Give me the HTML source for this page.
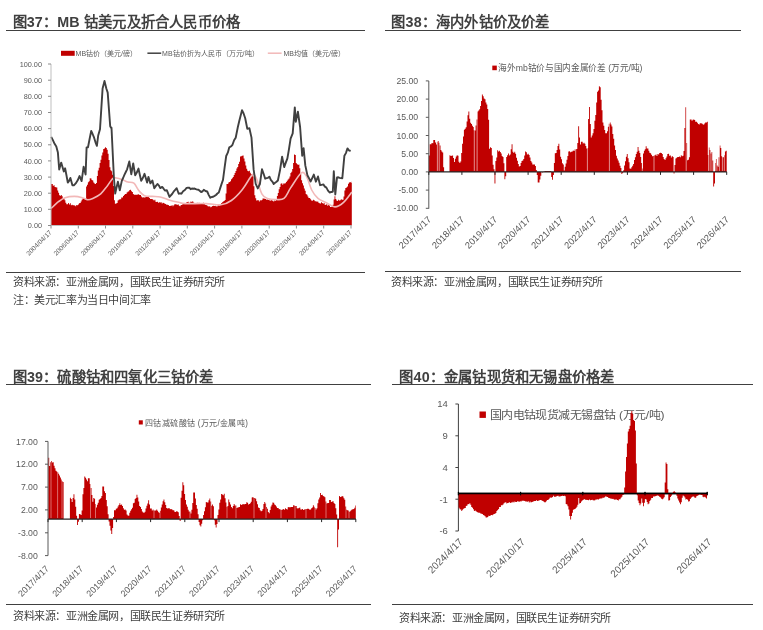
<!DOCTYPE html>
<html lang="zh-CN"><head><meta charset="utf-8"><style>
html,body{margin:0;padding:0;background:#fff;}
body{width:763px;height:630px;overflow:hidden;position:relative;filter:blur(0.35px);font-family:"Liberation Sans",sans-serif;}
.t{position:absolute;font-weight:bold;font-size:14.3px;letter-spacing:0.2px;color:#404040;white-space:nowrap;line-height:1;}
.s{position:absolute;font-size:11px;letter-spacing:-0.4px;color:#404040;white-space:nowrap;line-height:1;}
.hl{position:absolute;height:1.2px;background:#404040;}
svg{position:absolute;left:0;top:0;}
svg text{font-family:"Liberation Sans",sans-serif;}
</style></head><body>
<svg width="763" height="630" viewBox="0 0 763 630">
<path d="M51.0,225.5 L51.0,183.9 L51.9,183.9 L51.9,184.1 L52.8,184.1 L52.8,185.7 L53.7,185.7 L53.7,185.3 L54.6,185.3 L54.6,186.9 L55.5,186.9 L55.5,187.2 L56.4,187.2 L56.4,187.5 L57.3,187.5 L57.3,190.5 L58.2,190.5 L58.2,192.7 L59.1,192.7 L59.1,195.3 L60.0,195.3 L60.0,195.8 L60.9,195.8 L60.9,194.9 L61.8,194.9 L61.8,196.2 L62.7,196.2 L62.7,198.4 L63.6,198.4 L63.6,198.6 L64.5,198.6 L64.5,200.3 L65.4,200.3 L65.4,202.8 L66.3,202.8 L66.3,204.3 L67.2,204.3 L67.2,204.3 L68.1,204.3 L68.1,203.1 L69.0,203.1 L69.0,204.4 L69.9,204.4 L69.9,203.2 L70.8,203.2 L70.8,205.3 L71.7,205.3 L71.7,204.8 L72.6,204.8 L72.6,205.3 L73.5,205.3 L73.5,205.2 L74.4,205.2 L74.4,205.4 L75.3,205.4 L75.3,206.2 L76.2,206.2 L76.2,205.0 L77.1,205.0 L77.1,205.2 L78.0,205.2 L78.0,204.5 L78.9,204.5 L78.9,203.3 L79.8,203.3 L79.8,202.9 L80.7,202.9 L80.7,201.4 L81.6,201.4 L81.6,199.7 L82.5,199.7 L82.5,198.6 L83.4,198.6 L83.4,197.9 L84.3,197.9 L84.3,199.0 L85.2,199.0 L85.2,199.3 L86.1,199.3 L86.1,186.6 L87.0,186.6 L87.0,184.7 L87.9,184.7 L87.9,182.3 L88.8,182.3 L88.8,181.2 L89.7,181.2 L89.7,178.2 L90.6,178.2 L90.6,178.4 L91.5,178.4 L91.5,179.9 L92.4,179.9 L92.4,180.4 L93.3,180.4 L93.3,182.5 L94.2,182.5 L94.2,183.4 L95.1,183.4 L95.1,183.9 L96.0,183.9 L96.0,183.1 L96.9,183.1 L96.9,175.9 L97.8,175.9 L97.8,170.5 L98.7,170.5 L98.7,167.8 L99.6,167.8 L99.6,163.1 L100.5,163.1 L100.5,159.8 L101.4,159.8 L101.4,155.4 L102.3,155.4 L102.3,152.6 L103.2,152.6 L103.2,149.0 L104.1,149.0 L104.1,148.4 L105.0,148.4 L105.0,147.3 L105.9,147.3 L105.9,148.1 L106.8,148.1 L106.8,149.7 L107.7,149.7 L107.7,153.8 L108.6,153.8 L108.6,159.9 L109.5,159.9 L109.5,167.2 L110.4,167.2 L110.4,170.3 L111.3,170.3 L111.3,171.3 L112.2,171.3 L112.2,174.7 L113.1,174.7 L113.1,186.0 L114.0,186.0 L114.0,200.3 L114.9,200.3 L114.9,203.7 L115.8,203.7 L115.8,203.5 L116.7,203.5 L116.7,202.9 L117.6,202.9 L117.6,200.6 L118.5,200.6 L118.5,199.7 L119.4,199.7 L119.4,199.3 L120.3,199.3 L120.3,199.2 L121.2,199.2 L121.2,197.6 L122.1,197.6 L122.1,197.4 L123.0,197.4 L123.0,196.0 L123.9,196.0 L123.9,195.1 L124.8,195.1 L124.8,194.1 L125.7,194.1 L125.7,193.9 L126.6,193.9 L126.6,192.5 L127.5,192.5 L127.5,191.8 L128.4,191.8 L128.4,191.2 L129.3,191.2 L129.3,190.1 L130.2,190.1 L130.2,189.7 L131.1,189.7 L131.1,191.3 L132.0,191.3 L132.0,192.0 L132.9,192.0 L132.9,193.9 L133.8,193.9 L133.8,194.7 L134.7,194.7 L134.7,194.8 L135.6,194.8 L135.6,194.8 L136.5,194.8 L136.5,194.8 L137.4,194.8 L137.4,194.4 L138.3,194.4 L138.3,194.2 L139.2,194.2 L139.2,195.1 L140.1,195.1 L140.1,194.9 L141.0,194.9 L141.0,196.5 L141.9,196.5 L141.9,197.5 L142.8,197.5 L142.8,197.3 L143.7,197.3 L143.7,197.6 L144.6,197.6 L144.6,197.5 L145.5,197.5 L145.5,196.7 L146.4,196.7 L146.4,196.3 L147.3,196.3 L147.3,196.8 L148.2,196.8 L148.2,197.1 L149.1,197.1 L149.1,198.0 L150.0,198.0 L150.0,199.1 L150.9,199.1 L150.9,199.1 L151.8,199.1 L151.8,198.9 L152.7,198.9 L152.7,199.8 L153.6,199.8 L153.6,200.4 L154.5,200.4 L154.5,199.7 L155.4,199.7 L155.4,201.8 L156.3,201.8 L156.3,202.0 L157.2,202.0 L157.2,201.8 L158.1,201.8 L158.1,202.8 L159.0,202.8 L159.0,202.3 L159.9,202.3 L159.9,202.5 L160.8,202.5 L160.8,202.2 L161.7,202.2 L161.7,203.4 L162.6,203.4 L162.6,202.8 L163.5,202.8 L163.5,202.9 L164.4,202.9 L164.4,203.7 L165.3,203.7 L165.3,204.0 L166.2,204.0 L166.2,204.8 L167.1,204.8 L167.1,204.7 L168.0,204.7 L168.0,205.1 L168.9,205.1 L168.9,205.9 L169.8,205.9 L169.8,205.7 L170.7,205.7 L170.7,205.9 L171.6,205.9 L171.6,204.9 L172.5,204.9 L172.5,206.2 L173.4,206.2 L173.4,205.3 L174.3,205.3 L174.3,204.2 L175.2,204.2 L175.2,204.3 L176.1,204.3 L176.1,204.6 L177.0,204.6 L177.0,204.7 L177.9,204.7 L177.9,204.4 L178.8,204.4 L178.8,205.8 L179.7,205.8 L179.7,206.2 L180.6,206.2 L180.6,205.0 L181.5,205.0 L181.5,205.1 L182.4,205.1 L182.4,203.9 L183.3,203.9 L183.3,203.5 L184.2,203.5 L184.2,203.5 L185.1,203.5 L185.1,202.9 L186.0,202.9 L186.0,202.6 L186.9,202.6 L186.9,202.0 L187.8,202.0 L187.8,201.7 L188.7,201.7 L188.7,203.3 L189.6,203.3 L189.6,202.4 L190.5,202.4 L190.5,201.6 L191.4,201.6 L191.4,201.9 L192.3,201.9 L192.3,201.3 L193.2,201.3 L193.2,202.5 L194.1,202.5 L194.1,203.5 L195.0,203.5 L195.0,203.5 L195.9,203.5 L195.9,203.3 L196.8,203.3 L196.8,202.7 L197.7,202.7 L197.7,202.9 L198.6,202.9 L198.6,202.8 L199.5,202.8 L199.5,203.9 L200.4,203.9 L200.4,203.4 L201.3,203.4 L201.3,203.8 L202.2,203.8 L202.2,202.9 L203.1,202.9 L203.1,202.7 L204.0,202.7 L204.0,203.7 L204.9,203.7 L204.9,204.7 L205.8,204.7 L205.8,205.0 L206.7,205.0 L206.7,205.5 L207.6,205.5 L207.6,206.2 L208.5,206.2 L208.5,206.6 L209.4,206.6 L209.4,206.3 L210.3,206.3 L210.3,207.3 L211.2,207.3 L211.2,206.7 L212.1,206.7 L212.1,205.9 L213.0,205.9 L213.0,205.7 L213.9,205.7 L213.9,205.9 L214.8,205.9 L214.8,205.7 L215.7,205.7 L215.7,206.3 L216.6,206.3 L216.6,206.6 L217.5,206.6 L217.5,205.4 L218.4,205.4 L218.4,205.2 L219.3,205.2 L219.3,205.5 L220.2,205.5 L220.2,204.9 L221.1,204.9 L221.1,203.1 L222.0,203.1 L222.0,202.2 L222.9,202.2 L222.9,201.6 L223.8,201.6 L223.8,201.0 L224.7,201.0 L224.7,200.1 L225.6,200.1 L225.6,193.6 L226.5,193.6 L226.5,184.1 L227.4,184.1 L227.4,184.1 L228.3,184.1 L228.3,182.5 L229.2,182.5 L229.2,181.9 L230.1,181.9 L230.1,181.3 L231.0,181.3 L231.0,179.2 L231.9,179.2 L231.9,178.3 L232.8,178.3 L232.8,177.0 L233.7,177.0 L233.7,175.0 L234.6,175.0 L234.6,173.1 L235.5,173.1 L235.5,170.9 L236.4,170.9 L236.4,168.5 L237.3,168.5 L237.3,167.1 L238.2,167.1 L238.2,164.0 L239.1,164.0 L239.1,161.8 L240.0,161.8 L240.0,156.6 L240.9,156.6 L240.9,156.2 L241.8,156.2 L241.8,155.8 L242.7,155.8 L242.7,155.6 L243.6,155.6 L243.6,158.6 L244.5,158.6 L244.5,161.5 L245.4,161.5 L245.4,165.4 L246.3,165.4 L246.3,168.8 L247.2,168.8 L247.2,170.8 L248.1,170.8 L248.1,171.2 L249.0,171.2 L249.0,170.7 L249.9,170.7 L249.9,172.7 L250.8,172.7 L250.8,174.3 L251.7,174.3 L251.7,174.3 L252.6,174.3 L252.6,176.4 L253.5,176.4 L253.5,186.3 L254.4,186.3 L254.4,195.2 L255.3,195.2 L255.3,198.2 L256.2,198.2 L256.2,200.5 L257.1,200.5 L257.1,200.3 L258.0,200.3 L258.0,200.2 L258.9,200.2 L258.9,201.5 L259.8,201.5 L259.8,200.2 L260.7,200.2 L260.7,200.5 L261.6,200.5 L261.6,200.0 L262.5,200.0 L262.5,198.4 L263.4,198.4 L263.4,198.5 L264.3,198.5 L264.3,198.8 L265.2,198.8 L265.2,198.9 L266.1,198.9 L266.1,199.8 L267.0,199.8 L267.0,199.4 L267.9,199.4 L267.9,199.9 L268.8,199.9 L268.8,199.4 L269.7,199.4 L269.7,201.0 L270.6,201.0 L270.6,200.1 L271.5,200.1 L271.5,200.4 L272.4,200.4 L272.4,200.7 L273.3,200.7 L273.3,201.4 L274.2,201.4 L274.2,200.6 L275.1,200.6 L275.1,200.8 L276.0,200.8 L276.0,198.9 L276.9,198.9 L276.9,196.0 L277.8,196.0 L277.8,193.1 L278.7,193.1 L278.7,189.2 L279.6,189.2 L279.6,187.1 L280.5,187.1 L280.5,183.7 L281.4,183.7 L281.4,183.2 L282.3,183.2 L282.3,184.7 L283.2,184.7 L283.2,183.5 L284.1,183.5 L284.1,183.5 L285.0,183.5 L285.0,183.3 L285.9,183.3 L285.9,182.1 L286.8,182.1 L286.8,180.7 L287.7,180.7 L287.7,179.5 L288.6,179.5 L288.6,178.4 L289.5,178.4 L289.5,176.6 L290.4,176.6 L290.4,173.1 L291.3,173.1 L291.3,171.8 L292.2,171.8 L292.2,168.9 L293.1,168.9 L293.1,162.9 L294.0,162.9 L294.0,154.4 L294.9,154.4 L294.9,155.1 L295.8,155.1 L295.8,163.1 L296.7,163.1 L296.7,164.1 L297.6,164.1 L297.6,165.0 L298.5,165.0 L298.5,164.5 L299.4,164.5 L299.4,168.2 L300.3,168.2 L300.3,173.9 L301.2,173.9 L301.2,180.2 L302.1,180.2 L302.1,183.2 L303.0,183.2 L303.0,185.5 L303.9,185.5 L303.9,188.4 L304.8,188.4 L304.8,190.7 L305.7,190.7 L305.7,194.0 L306.6,194.0 L306.6,194.8 L307.5,194.8 L307.5,196.5 L308.4,196.5 L308.4,197.9 L309.3,197.9 L309.3,198.0 L310.2,198.0 L310.2,199.3 L311.1,199.3 L311.1,200.5 L312.0,200.5 L312.0,200.7 L312.9,200.7 L312.9,199.8 L313.8,199.8 L313.8,200.3 L314.7,200.3 L314.7,201.3 L315.6,201.3 L315.6,201.3 L316.5,201.3 L316.5,201.7 L317.4,201.7 L317.4,201.5 L318.3,201.5 L318.3,202.8 L319.2,202.8 L319.2,203.2 L320.1,203.2 L320.1,203.5 L321.0,203.5 L321.0,202.3 L321.9,202.3 L321.9,202.9 L322.8,202.9 L322.8,203.7 L323.7,203.7 L323.7,203.0 L324.6,203.0 L324.6,204.7 L325.5,204.7 L325.5,205.1 L326.4,205.1 L326.4,204.0 L327.3,204.0 L327.3,205.7 L328.2,205.7 L328.2,204.8 L329.1,204.8 L329.1,205.5 L330.0,205.5 L330.0,206.9 L330.9,206.9 L330.9,207.1 L331.8,207.1 L331.8,206.2 L332.7,206.2 L332.7,204.8 L333.6,204.8 L333.6,199.6 L334.5,199.6 L334.5,196.3 L335.4,196.3 L335.4,199.0 L336.3,199.0 L336.3,200.5 L337.2,200.5 L337.2,201.1 L338.1,201.1 L338.1,199.7 L339.0,199.7 L339.0,200.6 L339.9,200.6 L339.9,200.2 L340.8,200.2 L340.8,199.3 L341.7,199.3 L341.7,199.8 L342.6,199.8 L342.6,199.7 L343.5,199.7 L343.5,196.4 L344.4,196.4 L344.4,190.6 L345.3,190.6 L345.3,187.9 L346.2,187.9 L346.2,187.4 L347.1,187.4 L347.1,186.6 L348.0,186.6 L348.0,183.8 L348.9,183.8 L348.9,182.6 L349.8,182.6 L349.8,181.9 L350.7,181.9 L350.7,182.8 L351.6,182.8 L351.6,181.6 L351.8,181.6 L351.8,225.5" fill="#C00000"/>
<path d="M51.3,208.3 C52.5,207.2 56.2,203.5 58.5,201.7 C60.8,199.9 62.4,198.6 65.1,197.7 C67.8,196.8 71.5,196.4 74.4,196.4 C77.3,196.4 80.1,197.1 82.3,197.7 C84.5,198.2 85.8,199.6 87.5,199.7 C89.2,199.8 90.6,199.4 92.8,198.4 C95.0,197.4 98.3,195.9 100.7,193.8 C103.1,191.7 105.3,188.4 107.3,185.9 C109.3,183.4 111.1,179.9 112.6,178.6 C114.1,177.3 114.8,177.8 116.5,178.0 C118.2,178.2 121.2,179.3 123.1,180.0 C125.0,180.7 126.2,181.5 128.0,182.0 C129.8,182.5 132.0,181.7 133.9,183.2 C135.8,184.7 137.4,189.0 139.2,191.1 C141.0,193.2 142.3,194.8 144.5,195.7 C146.7,196.6 149.8,196.2 152.4,196.4 C155.0,196.6 157.7,196.4 160.3,197.0 C162.9,197.6 165.1,198.8 168.2,199.7 C171.3,200.6 175.8,201.7 178.7,202.3 C181.5,203.0 180.8,203.4 185.3,203.6 C189.9,203.8 200.1,203.4 206.0,203.6 C211.9,203.8 216.7,205.3 220.9,204.8 C225.1,204.3 227.9,203.0 231.4,200.5 C234.9,198.0 238.8,193.9 242.0,190.0 C245.2,186.1 248.5,179.9 250.4,177.3 C252.3,174.7 252.5,173.8 253.6,174.2 C254.7,174.5 255.4,176.1 256.8,179.4 C258.2,182.7 260.2,191.0 262.0,194.2 C263.8,197.4 265.0,197.5 267.3,198.4 C269.6,199.3 273.0,199.5 275.8,199.5 C278.6,199.5 281.5,200.3 284.0,198.4 C286.5,196.5 287.8,192.1 290.6,187.9 C293.5,183.7 298.5,175.0 301.1,173.1 C303.7,171.2 304.6,173.5 306.4,176.3 C308.2,179.1 309.8,186.3 311.7,190.0 C313.6,193.7 315.6,196.3 318.0,198.4 C320.4,200.5 323.6,201.3 326.4,202.7 C329.2,204.1 332.1,206.9 334.9,206.9 C337.7,206.9 340.5,205.2 343.3,202.7 C346.1,200.2 350.4,193.9 351.8,192.1" fill="none" stroke="#F2B8B8" stroke-width="1.6" stroke-linejoin="round"/>
<path d="M51.2,136.8 L52.9,140.2 L54.6,143.8 L56.3,146.6 L57.9,152.6 L59.2,169.5 L61.2,162.6 L63.8,171.5 L65.1,168.3 L66.4,175.0 L67.8,182.6 L69.1,180.9 L70.4,177.9 L72.4,185.3 L74.1,185.2 L75.7,183.4 L77.7,180.3 L79.6,176.0 L81.6,181.1 L83.6,166.8 L85.6,174.5 L86.6,147.4 L88.0,147.3 L89.6,139.0 L91.2,130.9 L92.6,134.0 L94.1,137.7 L95.5,142.3 L96.9,145.8 L98.2,135.5 L100.0,129.2 L102.6,88.4 L104.5,81.0 L106.4,88.7 L107.7,92.6 L110.2,126.3 L111.0,127.7 L111.5,127.8 L113.9,177.5 L115.2,193.6 L116.6,187.2 L117.9,181.7 L119.8,190.3 L121.8,180.9 L123.1,178.0 L124.4,174.9 L125.8,172.0 L127.1,169.3 L129.3,161.5 L131.3,174.4 L133.2,163.4 L135.2,175.3 L136.8,172.5 L138.5,168.6 L139.8,174.7 L141.2,180.9 L142.8,178.0 L144.5,173.8 L147.1,182.5 L148.4,176.9 L150.4,183.4 L152.4,180.5 L154.3,188.3 L155.9,185.9 L157.6,184.0 L158.9,185.5 L160.3,188.1 L162.2,186.9 L163.6,188.7 L164.9,190.5 L166.9,190.3 L169.5,196.9 L172.1,194.0 L173.6,191.7 L175.2,189.9 L176.7,188.2 L178.7,193.7 L180.1,193.3 L181.4,193.7 L183.1,191.3 L184.9,190.0 L186.6,187.9 L187.9,187.7 L189.3,187.7 L190.6,189.2 L191.9,188.5 L193.2,188.8 L194.5,188.5 L195.8,189.2 L197.2,189.6 L198.5,189.8 L201.1,192.0 L202.4,191.5 L203.8,189.8 L205.5,191.0 L207.2,191.5 L208.8,195.1 L210.3,197.8 L211.7,197.0 L213.2,196.7 L214.6,195.9 L216.0,195.0 L217.4,193.5 L218.8,192.5 L220.2,188.1 L221.6,183.9 L223.0,179.9 L224.6,167.6 L226.2,156.0 L227.8,152.7 L229.3,147.3 L230.9,146.5 L232.5,144.8 L234.1,140.3 L235.7,137.7 L237.8,127.2 L239.2,121.2 L240.6,115.8 L242.0,110.2 L243.6,113.5 L245.2,118.2 L247.3,128.8 L249.4,128.2 L251.5,137.6 L253.6,169.4 L255.7,183.8 L257.8,188.4 L259.9,184.0 L262.0,169.2 L263.6,173.8 L265.2,178.7 L266.6,178.2 L268.0,177.8 L269.4,176.7 L270.8,179.9 L272.3,181.6 L273.7,183.9 L275.1,182.8 L276.5,181.8 L277.9,180.5 L280.0,170.3 L282.1,156.6 L284.2,167.1 L285.8,162.6 L287.4,158.3 L289.0,149.0 L290.6,138.7 L292.7,133.3 L294.8,107.4 L295.8,121.8 L297.9,111.6 L300.1,127.0 L302.2,155.8 L303.6,148.1 L305.3,165.4 L307.4,175.2 L309.0,178.2 L310.6,181.5 L312.2,178.1 L313.8,174.6 L315.9,181.7 L318.0,176.5 L320.1,185.2 L321.7,184.8 L323.3,184.4 L324.9,186.6 L326.4,187.6 L328.0,190.6 L329.6,192.5 L331.2,192.0 L332.8,191.8 L333.8,171.2 L335.3,194.5 L337.0,177.5 L338.3,177.3 L339.6,177.9 L341.0,178.1 L342.3,178.4 L344.4,155.7 L345.9,153.1 L347.5,148.4 L349.1,150.5 L350.7,150.9" fill="none" stroke="#404040" stroke-width="1.9" stroke-linejoin="round"/>
<line x1="51" y1="64" x2="51" y2="225.5" stroke="#BFBFBF" stroke-width="1"/>
<line x1="51" y1="225.5" x2="351.5" y2="225.5" stroke="#BFBFBF" stroke-width="1"/>
<line x1="48" y1="225.5" x2="51" y2="225.5" stroke="#8C8C8C" stroke-width="1"/>
<text x="42" y="228.1" text-anchor="end" font-size="7.3" fill="#595959">0.00</text>
<line x1="48" y1="209.3" x2="51" y2="209.3" stroke="#8C8C8C" stroke-width="1"/>
<text x="42" y="211.9" text-anchor="end" font-size="7.3" fill="#595959">10.00</text>
<line x1="48" y1="193.2" x2="51" y2="193.2" stroke="#8C8C8C" stroke-width="1"/>
<text x="42" y="195.8" text-anchor="end" font-size="7.3" fill="#595959">20.00</text>
<line x1="48" y1="177.1" x2="51" y2="177.1" stroke="#8C8C8C" stroke-width="1"/>
<text x="42" y="179.7" text-anchor="end" font-size="7.3" fill="#595959">30.00</text>
<line x1="48" y1="160.9" x2="51" y2="160.9" stroke="#8C8C8C" stroke-width="1"/>
<text x="42" y="163.5" text-anchor="end" font-size="7.3" fill="#595959">40.00</text>
<line x1="48" y1="144.8" x2="51" y2="144.8" stroke="#8C8C8C" stroke-width="1"/>
<text x="42" y="147.3" text-anchor="end" font-size="7.3" fill="#595959">50.00</text>
<line x1="48" y1="128.6" x2="51" y2="128.6" stroke="#8C8C8C" stroke-width="1"/>
<text x="42" y="131.2" text-anchor="end" font-size="7.3" fill="#595959">60.00</text>
<line x1="48" y1="112.5" x2="51" y2="112.5" stroke="#8C8C8C" stroke-width="1"/>
<text x="42" y="115.1" text-anchor="end" font-size="7.3" fill="#595959">70.00</text>
<line x1="48" y1="96.3" x2="51" y2="96.3" stroke="#8C8C8C" stroke-width="1"/>
<text x="42" y="98.9" text-anchor="end" font-size="7.3" fill="#595959">80.00</text>
<line x1="48" y1="80.2" x2="51" y2="80.2" stroke="#8C8C8C" stroke-width="1"/>
<text x="42" y="82.8" text-anchor="end" font-size="7.3" fill="#595959">90.00</text>
<line x1="48" y1="64.0" x2="51" y2="64.0" stroke="#8C8C8C" stroke-width="1"/>
<text x="42" y="66.6" text-anchor="end" font-size="7.3" fill="#595959">100.00</text>
<line x1="51.0" y1="225.5" x2="51.0" y2="228.5" stroke="#8C8C8C" stroke-width="1"/>
<text transform="translate(52.0,233.0) rotate(-45)" text-anchor="end" font-size="6.5" fill="#595959">2004/04/17</text>
<line x1="78.3" y1="225.5" x2="78.3" y2="228.5" stroke="#8C8C8C" stroke-width="1"/>
<text transform="translate(79.3,233.0) rotate(-45)" text-anchor="end" font-size="6.5" fill="#595959">2006/04/17</text>
<line x1="105.5" y1="225.5" x2="105.5" y2="228.5" stroke="#8C8C8C" stroke-width="1"/>
<text transform="translate(106.5,233.0) rotate(-45)" text-anchor="end" font-size="6.5" fill="#595959">2008/04/17</text>
<line x1="132.8" y1="225.5" x2="132.8" y2="228.5" stroke="#8C8C8C" stroke-width="1"/>
<text transform="translate(133.8,233.0) rotate(-45)" text-anchor="end" font-size="6.5" fill="#595959">2010/04/17</text>
<line x1="160.1" y1="225.5" x2="160.1" y2="228.5" stroke="#8C8C8C" stroke-width="1"/>
<text transform="translate(161.1,233.0) rotate(-45)" text-anchor="end" font-size="6.5" fill="#595959">2012/04/17</text>
<line x1="187.3" y1="225.5" x2="187.3" y2="228.5" stroke="#8C8C8C" stroke-width="1"/>
<text transform="translate(188.3,233.0) rotate(-45)" text-anchor="end" font-size="6.5" fill="#595959">2014/04/17</text>
<line x1="214.6" y1="225.5" x2="214.6" y2="228.5" stroke="#8C8C8C" stroke-width="1"/>
<text transform="translate(215.6,233.0) rotate(-45)" text-anchor="end" font-size="6.5" fill="#595959">2016/04/17</text>
<line x1="241.9" y1="225.5" x2="241.9" y2="228.5" stroke="#8C8C8C" stroke-width="1"/>
<text transform="translate(242.9,233.0) rotate(-45)" text-anchor="end" font-size="6.5" fill="#595959">2018/04/17</text>
<line x1="269.2" y1="225.5" x2="269.2" y2="228.5" stroke="#8C8C8C" stroke-width="1"/>
<text transform="translate(270.2,233.0) rotate(-45)" text-anchor="end" font-size="6.5" fill="#595959">2020/04/17</text>
<line x1="296.4" y1="225.5" x2="296.4" y2="228.5" stroke="#8C8C8C" stroke-width="1"/>
<text transform="translate(297.4,233.0) rotate(-45)" text-anchor="end" font-size="6.5" fill="#595959">2022/04/17</text>
<line x1="323.7" y1="225.5" x2="323.7" y2="228.5" stroke="#8C8C8C" stroke-width="1"/>
<text transform="translate(324.7,233.0) rotate(-45)" text-anchor="end" font-size="6.5" fill="#595959">2024/04/17</text>
<line x1="351.0" y1="225.5" x2="351.0" y2="228.5" stroke="#8C8C8C" stroke-width="1"/>
<text transform="translate(352.0,233.0) rotate(-45)" text-anchor="end" font-size="6.5" fill="#595959">2026/04/17</text>
<rect x="61" y="50.8" width="13.7" height="5" fill="#C00000"/>
<text x="75.6" y="55.7" font-size="7" fill="#595959">MB钴价（美元/磅）</text>
<line x1="147.4" y1="53.2" x2="161.2" y2="53.2" stroke="#404040" stroke-width="1.5"/>
<text x="162.1" y="55.7" font-size="7" fill="#595959">MB钴价折为人民币（万元/吨）</text>
<line x1="267.8" y1="53.2" x2="281.6" y2="53.2" stroke="#F2B8B8" stroke-width="1.5"/>
<text x="283.5" y="55.7" font-size="7" fill="#595959">MB均值（美元/磅）</text>
<path d="M428.8,171.9 L428.8,155.5 L429.7,155.5 L429.7,144.2 L430.6,144.2 L430.6,144.3 L431.5,144.3 L431.5,143.0 L432.4,143.0 L432.4,143.3 L433.3,143.3 L433.3,139.9 L434.2,139.9 L434.2,140.1 L435.1,140.1 L435.1,142.6 L436.0,142.6 L436.0,144.6 L436.9,144.6 L436.9,141.8 L437.8,141.8 L437.8,141.0 L438.7,141.0 L438.7,142.8 L439.6,142.8 L439.6,145.5 L440.5,145.5 L440.5,150.0 L441.4,150.0 L441.4,151.6 L442.3,151.6 L442.3,152.6 L443.2,152.6 L443.2,167.2 L444.1,167.2 L444.1,171.9 L445.0,171.9 L445.0,171.9 L445.9,171.9 L445.9,171.9 L446.8,171.9 L446.8,171.9 L447.7,171.9 L447.7,171.9 L448.6,171.9 L448.6,171.9 L449.5,171.9 L449.5,155.2 L450.4,155.2 L450.4,155.9 L451.3,155.9 L451.3,155.8 L452.2,155.8 L452.2,155.4 L453.1,155.4 L453.1,158.0 L454.0,158.0 L454.0,161.9 L454.9,161.9 L454.9,158.7 L455.8,158.7 L455.8,156.6 L456.7,156.6 L456.7,155.2 L457.6,155.2 L457.6,155.7 L458.5,155.7 L458.5,161.8 L459.4,161.8 L459.4,163.1 L460.3,163.1 L460.3,161.6 L461.2,161.6 L461.2,153.0 L462.1,153.0 L462.1,143.7 L463.0,143.7 L463.0,136.4 L463.9,136.4 L463.9,129.8 L464.8,129.8 L464.8,128.7 L465.7,128.7 L465.7,127.3 L466.6,127.3 L466.6,121.6 L467.5,121.6 L467.5,115.3 L468.4,115.3 L468.4,111.6 L469.3,111.6 L469.3,118.8 L470.2,118.8 L470.2,122.7 L471.1,122.7 L471.1,124.0 L472.0,124.0 L472.0,125.8 L472.9,125.8 L472.9,127.0 L473.8,127.0 L473.8,130.2 L474.7,130.2 L474.7,130.6 L475.6,130.6 L475.6,125.5 L476.5,125.5 L476.5,119.6 L477.4,119.6 L477.4,111.5 L478.3,111.5 L478.3,110.6 L479.2,110.6 L479.2,109.3 L480.1,109.3 L480.1,106.1 L481.0,106.1 L481.0,101.1 L481.9,101.1 L481.9,94.4 L482.8,94.4 L482.8,96.3 L483.7,96.3 L483.7,98.4 L484.6,98.4 L484.6,99.2 L485.5,99.2 L485.5,102.4 L486.4,102.4 L486.4,104.6 L487.3,104.6 L487.3,109.0 L488.2,109.0 L488.2,119.7 L489.1,119.7 L489.1,148.8 L490.0,148.8 L490.0,147.3 L490.9,147.3 L490.9,148.0 L491.8,148.0 L491.8,155.6 L492.7,155.6 L492.7,164.8 L493.6,164.8 L493.6,169.2 L494.5,169.2 L494.5,183.6 L495.4,183.6 L495.4,160.9 L496.3,160.9 L496.3,157.6 L497.2,157.6 L497.2,150.2 L498.1,150.2 L498.1,151.5 L499.0,151.5 L499.0,150.8 L499.9,150.8 L499.9,152.0 L500.8,152.0 L500.8,153.6 L501.7,153.6 L501.7,155.9 L502.6,155.9 L502.6,157.1 L503.5,157.1 L503.5,163.2 L504.4,163.2 L504.4,179.2 L505.3,179.2 L505.3,176.3 L506.2,176.3 L506.2,157.1 L507.1,157.1 L507.1,155.3 L508.0,155.3 L508.0,153.5 L508.9,153.5 L508.9,155.6 L509.8,155.6 L509.8,154.4 L510.7,154.4 L510.7,149.2 L511.6,149.2 L511.6,144.3 L512.5,144.3 L512.5,151.7 L513.4,151.7 L513.4,152.9 L514.3,152.9 L514.3,151.8 L515.2,151.8 L515.2,153.8 L516.1,153.8 L516.1,157.8 L517.0,157.8 L517.0,160.8 L517.9,160.8 L517.9,164.1 L518.8,164.1 L518.8,166.4 L519.7,166.4 L519.7,166.0 L520.6,166.0 L520.6,163.1 L521.5,163.1 L521.5,160.9 L522.4,160.9 L522.4,160.4 L523.3,160.4 L523.3,158.9 L524.2,158.9 L524.2,155.5 L525.1,155.5 L525.1,151.6 L526.0,151.6 L526.0,152.2 L526.9,152.2 L526.9,154.6 L527.8,154.6 L527.8,153.7 L528.7,153.7 L528.7,155.0 L529.6,155.0 L529.6,157.5 L530.5,157.5 L530.5,160.9 L531.4,160.9 L531.4,162.5 L532.3,162.5 L532.3,164.5 L533.2,164.5 L533.2,164.5 L534.1,164.5 L534.1,164.6 L535.0,164.6 L535.0,166.1 L535.9,166.1 L535.9,169.9 L536.8,169.9 L536.8,174.9 L537.7,174.9 L537.7,182.4 L538.6,182.4 L538.6,182.6 L539.5,182.6 L539.5,179.5 L540.4,179.5 L540.4,175.7 L541.3,175.7 L541.3,172.0 L542.2,172.0 L542.2,172.6 L543.1,172.6 L543.1,171.7 L544.0,171.7 L544.0,171.4 L544.9,171.4 L544.9,170.9 L545.8,170.9 L545.8,170.9 L546.7,170.9 L546.7,170.9 L547.6,170.9 L547.6,170.9 L548.5,170.9 L548.5,170.9 L549.4,170.9 L549.4,170.9 L550.3,170.9 L550.3,171.0 L551.2,171.0 L551.2,176.9 L552.1,176.9 L552.1,179.8 L553.0,179.8 L553.0,175.0 L553.9,175.0 L553.9,163.1 L554.8,163.1 L554.8,153.3 L555.7,153.3 L555.7,153.0 L556.6,153.0 L556.6,150.0 L557.5,150.0 L557.5,146.0 L558.4,146.0 L558.4,143.7 L559.3,143.7 L559.3,149.5 L560.2,149.5 L560.2,156.8 L561.1,156.8 L561.1,159.3 L562.0,159.3 L562.0,163.2 L562.9,163.2 L562.9,164.5 L563.8,164.5 L563.8,170.5 L564.7,170.5 L564.7,166.7 L565.6,166.7 L565.6,163.4 L566.5,163.4 L566.5,159.8 L567.4,159.8 L567.4,155.9 L568.3,155.9 L568.3,151.6 L569.2,151.6 L569.2,151.3 L570.1,151.3 L570.1,152.3 L571.0,152.3 L571.0,151.8 L571.9,151.8 L571.9,151.4 L572.8,151.4 L572.8,150.6 L573.7,150.6 L573.7,151.0 L574.6,151.0 L574.6,149.6 L575.5,149.6 L575.5,149.2 L576.4,149.2 L576.4,148.9 L577.3,148.9 L577.3,143.0 L578.2,143.0 L578.2,126.3 L579.1,126.3 L579.1,137.5 L580.0,137.5 L580.0,144.5 L580.9,144.5 L580.9,141.7 L581.8,141.7 L581.8,141.8 L582.7,141.8 L582.7,143.6 L583.6,143.6 L583.6,142.7 L584.5,142.7 L584.5,143.8 L585.4,143.8 L585.4,146.1 L586.3,146.1 L586.3,148.5 L587.2,148.5 L587.2,148.3 L588.1,148.3 L588.1,118.9 L589.0,118.9 L589.0,107.0 L589.9,107.0 L589.9,124.0 L590.8,124.0 L590.8,137.5 L591.7,137.5 L591.7,135.6 L592.6,135.6 L592.6,133.3 L593.5,133.3 L593.5,129.0 L594.4,129.0 L594.4,120.8 L595.3,120.8 L595.3,115.0 L596.2,115.0 L596.2,102.4 L597.1,102.4 L597.1,91.7 L598.0,91.7 L598.0,90.6 L598.9,90.6 L598.9,86.2 L599.8,86.2 L599.8,87.2 L600.7,87.2 L600.7,99.8 L601.6,99.8 L601.6,110.2 L602.5,110.2 L602.5,122.4 L603.4,122.4 L603.4,125.7 L604.3,125.7 L604.3,130.0 L605.2,130.0 L605.2,133.2 L606.1,133.2 L606.1,133.3 L607.0,133.3 L607.0,131.2 L607.9,131.2 L607.9,126.8 L608.8,126.8 L608.8,123.7 L609.7,123.7 L609.7,122.5 L610.6,122.5 L610.6,124.6 L611.5,124.6 L611.5,126.4 L612.4,126.4 L612.4,134.1 L613.3,134.1 L613.3,138.8 L614.2,138.8 L614.2,145.6 L615.1,145.6 L615.1,149.9 L616.0,149.9 L616.0,155.8 L616.9,155.8 L616.9,158.4 L617.8,158.4 L617.8,160.5 L618.7,160.5 L618.7,162.8 L619.6,162.8 L619.6,165.8 L620.5,165.8 L620.5,168.1 L621.4,168.1 L621.4,174.1 L622.3,174.1 L622.3,172.7 L623.2,172.7 L623.2,170.3 L624.1,170.3 L624.1,165.6 L625.0,165.6 L625.0,161.2 L625.9,161.2 L625.9,156.8 L626.8,156.8 L626.8,153.9 L627.7,153.9 L627.7,158.2 L628.6,158.2 L628.6,162.2 L629.5,162.2 L629.5,168.4 L630.4,168.4 L630.4,168.7 L631.3,168.7 L631.3,167.3 L632.2,167.3 L632.2,165.8 L633.1,165.8 L633.1,163.9 L634.0,163.9 L634.0,160.0 L634.9,160.0 L634.9,157.2 L635.8,157.2 L635.8,153.9 L636.7,153.9 L636.7,151.8 L637.6,151.8 L637.6,147.0 L638.5,147.0 L638.5,150.7 L639.4,150.7 L639.4,152.9 L640.3,152.9 L640.3,156.9 L641.2,156.9 L641.2,163.1 L642.1,163.1 L642.1,168.6 L643.0,168.6 L643.0,153.6 L643.9,153.6 L643.9,150.7 L644.8,150.7 L644.8,149.2 L645.7,149.2 L645.7,146.3 L646.6,146.3 L646.6,148.4 L647.5,148.4 L647.5,148.6 L648.4,148.6 L648.4,150.8 L649.3,150.8 L649.3,152.7 L650.2,152.7 L650.2,153.2 L651.1,153.2 L651.1,154.7 L652.0,154.7 L652.0,156.2 L652.9,156.2 L652.9,156.0 L653.8,156.0 L653.8,155.6 L654.7,155.6 L654.7,155.3 L655.6,155.3 L655.6,154.6 L656.5,154.6 L656.5,155.9 L657.4,155.9 L657.4,153.9 L658.3,153.9 L658.3,154.4 L659.2,154.4 L659.2,153.0 L660.1,153.0 L660.1,152.8 L661.0,152.8 L661.0,153.1 L661.9,153.1 L661.9,154.0 L662.8,154.0 L662.8,157.0 L663.7,157.0 L663.7,159.0 L664.6,159.0 L664.6,160.0 L665.5,160.0 L665.5,158.2 L666.4,158.2 L666.4,156.4 L667.3,156.4 L667.3,154.0 L668.2,154.0 L668.2,153.8 L669.1,153.8 L669.1,155.8 L670.0,155.8 L670.0,155.5 L670.9,155.5 L670.9,157.4 L671.8,157.4 L671.8,156.0 L672.7,156.0 L672.7,157.1 L673.6,157.1 L673.6,173.5 L674.5,173.5 L674.5,164.9 L675.4,164.9 L675.4,158.4 L676.3,158.4 L676.3,157.8 L677.2,157.8 L677.2,157.1 L678.1,157.1 L678.1,157.0 L679.0,157.0 L679.0,156.4 L679.9,156.4 L679.9,157.3 L680.8,157.3 L680.8,155.3 L681.7,155.3 L681.7,156.3 L682.6,156.3 L682.6,155.8 L683.5,155.8 L683.5,150.9 L684.4,150.9 L684.4,127.9 L685.3,127.9 L685.3,107.2 L686.2,107.2 L686.2,142.9 L687.1,142.9 L687.1,160.3 L688.0,160.3 L688.0,159.8 L688.9,159.8 L688.9,157.2 L689.8,157.2 L689.8,119.6 L690.7,119.6 L690.7,119.6 L691.6,119.6 L691.6,120.8 L692.5,120.8 L692.5,119.7 L693.4,119.7 L693.4,119.6 L694.3,119.6 L694.3,120.1 L695.2,120.1 L695.2,121.7 L696.1,121.7 L696.1,121.8 L697.0,121.8 L697.0,122.7 L697.9,122.7 L697.9,124.0 L698.8,124.0 L698.8,124.5 L699.7,124.5 L699.7,123.2 L700.6,123.2 L700.6,123.2 L701.5,123.2 L701.5,123.5 L702.4,123.5 L702.4,124.3 L703.3,124.3 L703.3,124.8 L704.2,124.8 L704.2,123.6 L705.1,123.6 L705.1,122.6 L706.0,122.6 L706.0,122.5 L706.9,122.5 L706.9,121.8 L707.8,121.8 L707.8,155.0 L708.7,155.0 L708.7,147.4 L709.6,147.4 L709.6,149.9 L710.5,149.9 L710.5,153.5 L711.4,153.5 L711.4,152.0 L712.3,152.0 L712.3,160.6 L713.2,160.6 L713.2,186.4 L714.1,186.4 L714.1,183.4 L715.0,183.4 L715.0,163.0 L715.9,163.0 L715.9,158.9 L716.8,158.9 L716.8,165.4 L717.7,165.4 L717.7,166.7 L718.6,166.7 L718.6,157.2 L719.5,157.2 L719.5,145.6 L720.4,145.6 L720.4,148.1 L721.3,148.1 L721.3,156.3 L722.2,156.3 L722.2,157.2 L723.1,157.2 L723.1,157.2 L724.0,157.2 L724.0,155.2 L724.9,155.2 L724.9,151.4 L725.8,151.4 L725.8,150.7 L726.7,150.7 L726.7,171.9 L726.7,171.9 L726.7,171.9" fill="#C00000"/>
<line x1="437.4" y1="80" x2="437.4" y2="170.9" stroke="#fff" stroke-width="0.7" stroke-opacity="0.8"/>
<line x1="439.2" y1="80" x2="439.2" y2="170.9" stroke="#fff" stroke-width="0.7" stroke-opacity="0.8"/>
<line x1="474.3" y1="80" x2="474.3" y2="170.9" stroke="#fff" stroke-width="0.7" stroke-opacity="0.8"/>
<line x1="477.1" y1="80" x2="477.1" y2="170.9" stroke="#fff" stroke-width="0.7" stroke-opacity="0.8"/>
<line x1="575.7" y1="80" x2="575.7" y2="170.9" stroke="#fff" stroke-width="0.7" stroke-opacity="0.8"/>
<line x1="587.4" y1="80" x2="587.4" y2="170.9" stroke="#fff" stroke-width="0.7" stroke-opacity="0.8"/>
<line x1="609.4" y1="80" x2="609.4" y2="170.9" stroke="#fff" stroke-width="0.7" stroke-opacity="0.8"/>
<line x1="642.3" y1="80" x2="642.3" y2="170.9" stroke="#fff" stroke-width="0.7" stroke-opacity="0.8"/>
<line x1="654" y1="80" x2="654" y2="170.9" stroke="#fff" stroke-width="0.7" stroke-opacity="0.8"/>
<line x1="686.2" y1="80" x2="686.2" y2="170.9" stroke="#fff" stroke-width="0.7" stroke-opacity="0.8"/>
<line x1="708.5" y1="80" x2="708.5" y2="170.9" stroke="#fff" stroke-width="0.7" stroke-opacity="0.8"/>
<line x1="710.1" y1="80" x2="710.1" y2="170.9" stroke="#fff" stroke-width="0.7" stroke-opacity="0.8"/>
<line x1="712.0" y1="80" x2="712.0" y2="170.9" stroke="#fff" stroke-width="0.7" stroke-opacity="0.8"/>
<line x1="715.3" y1="80" x2="715.3" y2="170.9" stroke="#fff" stroke-width="0.7" stroke-opacity="0.8"/>
<line x1="716.9" y1="80" x2="716.9" y2="170.9" stroke="#fff" stroke-width="0.7" stroke-opacity="0.8"/>
<line x1="719.4" y1="80" x2="719.4" y2="170.9" stroke="#fff" stroke-width="0.7" stroke-opacity="0.8"/>
<line x1="722.4" y1="80" x2="722.4" y2="170.9" stroke="#fff" stroke-width="0.7" stroke-opacity="0.8"/>
<line x1="724.3" y1="80" x2="724.3" y2="170.9" stroke="#fff" stroke-width="0.7" stroke-opacity="0.8"/>
<line x1="428.8" y1="81" x2="428.8" y2="208.7" stroke="#595959" stroke-width="1"/>
<line x1="428.8" y1="171.9" x2="726.7" y2="171.9" stroke="#262626" stroke-width="1.2"/>
<line x1="425.8" y1="208.3" x2="428.8" y2="208.3" stroke="#595959" stroke-width="1"/>
<text x="418.2" y="211.4" text-anchor="end" font-size="8.7" fill="#595959">-10.00</text>
<line x1="425.8" y1="190.1" x2="428.8" y2="190.1" stroke="#595959" stroke-width="1"/>
<text x="418.2" y="193.2" text-anchor="end" font-size="8.7" fill="#595959">-5.00</text>
<line x1="425.8" y1="171.9" x2="428.8" y2="171.9" stroke="#595959" stroke-width="1"/>
<text x="418.2" y="175.0" text-anchor="end" font-size="8.7" fill="#595959">0.00</text>
<line x1="425.8" y1="153.7" x2="428.8" y2="153.7" stroke="#595959" stroke-width="1"/>
<text x="418.2" y="156.8" text-anchor="end" font-size="8.7" fill="#595959">5.00</text>
<line x1="425.8" y1="135.5" x2="428.8" y2="135.5" stroke="#595959" stroke-width="1"/>
<text x="418.2" y="138.6" text-anchor="end" font-size="8.7" fill="#595959">10.00</text>
<line x1="425.8" y1="117.3" x2="428.8" y2="117.3" stroke="#595959" stroke-width="1"/>
<text x="418.2" y="120.4" text-anchor="end" font-size="8.7" fill="#595959">15.00</text>
<line x1="425.8" y1="99.1" x2="428.8" y2="99.1" stroke="#595959" stroke-width="1"/>
<text x="418.2" y="102.2" text-anchor="end" font-size="8.7" fill="#595959">20.00</text>
<line x1="425.8" y1="80.9" x2="428.8" y2="80.9" stroke="#595959" stroke-width="1"/>
<text x="418.2" y="84.0" text-anchor="end" font-size="8.7" fill="#595959">25.00</text>
<line x1="428.8" y1="171.9" x2="428.8" y2="174.9" stroke="#262626" stroke-width="1"/>
<text transform="translate(431.8,220.0) rotate(-45)" text-anchor="end" font-size="9.3" fill="#595959">2017/4/17</text>
<line x1="461.9" y1="171.9" x2="461.9" y2="174.9" stroke="#262626" stroke-width="1"/>
<text transform="translate(464.9,220.0) rotate(-45)" text-anchor="end" font-size="9.3" fill="#595959">2018/4/17</text>
<line x1="495.0" y1="171.9" x2="495.0" y2="174.9" stroke="#262626" stroke-width="1"/>
<text transform="translate(498.0,220.0) rotate(-45)" text-anchor="end" font-size="9.3" fill="#595959">2019/4/17</text>
<line x1="528.1" y1="171.9" x2="528.1" y2="174.9" stroke="#262626" stroke-width="1"/>
<text transform="translate(531.1,220.0) rotate(-45)" text-anchor="end" font-size="9.3" fill="#595959">2020/4/17</text>
<line x1="561.2" y1="171.9" x2="561.2" y2="174.9" stroke="#262626" stroke-width="1"/>
<text transform="translate(564.2,220.0) rotate(-45)" text-anchor="end" font-size="9.3" fill="#595959">2021/4/17</text>
<line x1="594.3" y1="171.9" x2="594.3" y2="174.9" stroke="#262626" stroke-width="1"/>
<text transform="translate(597.3,220.0) rotate(-45)" text-anchor="end" font-size="9.3" fill="#595959">2022/4/17</text>
<line x1="627.4" y1="171.9" x2="627.4" y2="174.9" stroke="#262626" stroke-width="1"/>
<text transform="translate(630.4,220.0) rotate(-45)" text-anchor="end" font-size="9.3" fill="#595959">2023/4/17</text>
<line x1="660.5" y1="171.9" x2="660.5" y2="174.9" stroke="#262626" stroke-width="1"/>
<text transform="translate(663.5,220.0) rotate(-45)" text-anchor="end" font-size="9.3" fill="#595959">2024/4/17</text>
<line x1="693.6" y1="171.9" x2="693.6" y2="174.9" stroke="#262626" stroke-width="1"/>
<text transform="translate(696.6,220.0) rotate(-45)" text-anchor="end" font-size="9.3" fill="#595959">2025/4/17</text>
<line x1="726.7" y1="171.9" x2="726.7" y2="174.9" stroke="#262626" stroke-width="1"/>
<text transform="translate(729.7,220.0) rotate(-45)" text-anchor="end" font-size="9.3" fill="#595959">2026/4/17</text>
<rect x="492.3" y="65.6" width="4.5" height="4.6" fill="#C00000"/>
<text x="498.4" y="71" font-size="9" textLength="144" lengthAdjust="spacingAndGlyphs" fill="#595959">海外mb钴价与国内金属价差 (万元/吨)</text>
<path d="M48.3,519.1 L48.3,457.7 L49.2,457.7 L49.2,465.9 L50.1,465.9 L50.1,462.3 L51.0,462.3 L51.0,461.1 L51.9,461.1 L51.9,462.5 L52.8,462.5 L52.8,462.2 L53.7,462.2 L53.7,465.7 L54.6,465.7 L54.6,468.2 L55.5,468.2 L55.5,470.7 L56.4,470.7 L56.4,471.4 L57.3,471.4 L57.3,472.2 L58.2,472.2 L58.2,473.8 L59.1,473.8 L59.1,475.5 L60.0,475.5 L60.0,477.6 L60.9,477.6 L60.9,479.4 L61.8,479.4 L61.8,481.3 L62.7,481.3 L62.7,482.1 L63.6,482.1 L63.6,519.1 L64.5,519.1 L64.5,519.1 L65.4,519.1 L65.4,519.1 L66.3,519.1 L66.3,519.1 L67.2,519.1 L67.2,519.1 L68.1,519.1 L68.1,519.1 L69.0,519.1 L69.0,519.1 L69.9,519.1 L69.9,497.7 L70.8,497.7 L70.8,499.1 L71.7,499.1 L71.7,502.1 L72.6,502.1 L72.6,498.0 L73.5,498.0 L73.5,494.2 L74.4,494.2 L74.4,499.4 L75.3,499.4 L75.3,506.7 L76.2,506.7 L76.2,515.7 L77.1,515.7 L77.1,525.0 L78.0,525.0 L78.0,521.8 L78.9,521.8 L78.9,514.0 L79.8,514.0 L79.8,514.2 L80.7,514.2 L80.7,515.0 L81.6,515.0 L81.6,510.6 L82.5,510.6 L82.5,494.2 L83.4,494.2 L83.4,488.0 L84.3,488.0 L84.3,476.5 L85.2,476.5 L85.2,477.7 L86.1,477.7 L86.1,479.4 L87.0,479.4 L87.0,481.2 L87.9,481.2 L87.9,478.3 L88.8,478.3 L88.8,478.2 L89.7,478.2 L89.7,484.1 L90.6,484.1 L90.6,488.0 L91.5,488.0 L91.5,494.9 L92.4,494.9 L92.4,501.8 L93.3,501.8 L93.3,498.0 L94.2,498.0 L94.2,498.8 L95.1,498.8 L95.1,504.0 L96.0,504.0 L96.0,507.4 L96.9,507.4 L96.9,504.8 L97.8,504.8 L97.8,502.8 L98.7,502.8 L98.7,499.7 L99.6,499.7 L99.6,498.9 L100.5,498.9 L100.5,497.9 L101.4,497.9 L101.4,496.1 L102.3,496.1 L102.3,486.6 L103.2,486.6 L103.2,486.4 L104.1,486.4 L104.1,491.3 L105.0,491.3 L105.0,493.0 L105.9,493.0 L105.9,500.0 L106.8,500.0 L106.8,506.2 L107.7,506.2 L107.7,514.2 L108.6,514.2 L108.6,521.6 L109.5,521.6 L109.5,525.8 L110.4,525.8 L110.4,530.6 L111.3,530.6 L111.3,533.9 L112.2,533.9 L112.2,528.1 L113.1,528.1 L113.1,517.1 L114.0,517.1 L114.0,510.2 L114.9,510.2 L114.9,510.2 L115.8,510.2 L115.8,508.8 L116.7,508.8 L116.7,508.2 L117.6,508.2 L117.6,506.6 L118.5,506.6 L118.5,505.0 L119.4,505.0 L119.4,503.2 L120.3,503.2 L120.3,505.0 L121.2,505.0 L121.2,504.4 L122.1,504.4 L122.1,506.1 L123.0,506.1 L123.0,508.3 L123.9,508.3 L123.9,509.8 L124.8,509.8 L124.8,509.4 L125.7,509.4 L125.7,510.6 L126.6,510.6 L126.6,514.5 L127.5,514.5 L127.5,515.6 L128.4,515.6 L128.4,515.8 L129.3,515.8 L129.3,512.8 L130.2,512.8 L130.2,510.8 L131.1,510.8 L131.1,509.2 L132.0,509.2 L132.0,507.8 L132.9,507.8 L132.9,503.2 L133.8,503.2 L133.8,502.8 L134.7,502.8 L134.7,499.0 L135.6,499.0 L135.6,497.9 L136.5,497.9 L136.5,494.8 L137.4,494.8 L137.4,497.6 L138.3,497.6 L138.3,501.5 L139.2,501.5 L139.2,506.1 L140.1,506.1 L140.1,506.9 L141.0,506.9 L141.0,509.1 L141.9,509.1 L141.9,511.6 L142.8,511.6 L142.8,512.4 L143.7,512.4 L143.7,512.7 L144.6,512.7 L144.6,511.8 L145.5,511.8 L145.5,508.6 L146.4,508.6 L146.4,505.8 L147.3,505.8 L147.3,503.6 L148.2,503.6 L148.2,500.2 L149.1,500.2 L149.1,504.6 L150.0,504.6 L150.0,508.4 L150.9,508.4 L150.9,508.4 L151.8,508.4 L151.8,510.6 L152.7,510.6 L152.7,509.5 L153.6,509.5 L153.6,510.5 L154.5,510.5 L154.5,510.6 L155.4,510.6 L155.4,510.5 L156.3,510.5 L156.3,509.5 L157.2,509.5 L157.2,510.7 L158.1,510.7 L158.1,512.3 L159.0,512.3 L159.0,512.8 L159.9,512.8 L159.9,510.8 L160.8,510.8 L160.8,507.6 L161.7,507.6 L161.7,504.6 L162.6,504.6 L162.6,501.2 L163.5,501.2 L163.5,499.6 L164.4,499.6 L164.4,502.2 L165.3,502.2 L165.3,505.1 L166.2,505.1 L166.2,508.0 L167.1,508.0 L167.1,508.5 L168.0,508.5 L168.0,508.3 L168.9,508.3 L168.9,508.2 L169.8,508.2 L169.8,509.2 L170.7,509.2 L170.7,508.9 L171.6,508.9 L171.6,509.4 L172.5,509.4 L172.5,510.3 L173.4,510.3 L173.4,510.3 L174.3,510.3 L174.3,511.7 L175.2,511.7 L175.2,512.0 L176.1,512.0 L176.1,511.3 L177.0,511.3 L177.0,511.5 L177.9,511.5 L177.9,512.3 L178.8,512.3 L178.8,516.0 L179.7,516.0 L179.7,521.0 L180.6,521.0 L180.6,497.8 L181.5,497.8 L181.5,490.7 L182.4,490.7 L182.4,482.3 L183.3,482.3 L183.3,485.2 L184.2,485.2 L184.2,494.1 L185.1,494.1 L185.1,500.1 L186.0,500.1 L186.0,504.6 L186.9,504.6 L186.9,506.7 L187.8,506.7 L187.8,509.8 L188.7,509.8 L188.7,511.4 L189.6,511.4 L189.6,511.4 L190.5,511.4 L190.5,513.4 L191.4,513.4 L191.4,509.7 L192.3,509.7 L192.3,503.0 L193.2,503.0 L193.2,492.5 L194.1,492.5 L194.1,492.5 L195.0,492.5 L195.0,498.5 L195.9,498.5 L195.9,505.0 L196.8,505.0 L196.8,508.7 L197.7,508.7 L197.7,514.2 L198.6,514.2 L198.6,522.0 L199.5,522.0 L199.5,525.3 L200.4,525.3 L200.4,526.4 L201.3,526.4 L201.3,523.7 L202.2,523.7 L202.2,520.3 L203.1,520.3 L203.1,514.9 L204.0,514.9 L204.0,511.2 L204.9,511.2 L204.9,507.3 L205.8,507.3 L205.8,502.1 L206.7,502.1 L206.7,502.5 L207.6,502.5 L207.6,502.5 L208.5,502.5 L208.5,500.3 L209.4,500.3 L209.4,498.4 L210.3,498.4 L210.3,501.5 L211.2,501.5 L211.2,505.7 L212.1,505.7 L212.1,504.4 L213.0,504.4 L213.0,506.3 L213.9,506.3 L213.9,520.2 L214.8,520.2 L214.8,524.7 L215.7,524.7 L215.7,527.4 L216.6,527.4 L216.6,524.0 L217.5,524.0 L217.5,515.0 L218.4,515.0 L218.4,509.5 L219.3,509.5 L219.3,502.8 L220.2,502.8 L220.2,499.5 L221.1,499.5 L221.1,494.1 L222.0,494.1 L222.0,494.6 L222.9,494.6 L222.9,495.2 L223.8,495.2 L223.8,493.8 L224.7,493.8 L224.7,498.3 L225.6,498.3 L225.6,502.5 L226.5,502.5 L226.5,506.8 L227.4,506.8 L227.4,505.9 L228.3,505.9 L228.3,499.4 L229.2,499.4 L229.2,502.3 L230.1,502.3 L230.1,504.5 L231.0,504.5 L231.0,506.9 L231.9,506.9 L231.9,508.2 L232.8,508.2 L232.8,506.1 L233.7,506.1 L233.7,503.9 L234.6,503.9 L234.6,505.5 L235.5,505.5 L235.5,505.5 L236.4,505.5 L236.4,507.9 L237.3,507.9 L237.3,507.6 L238.2,507.6 L238.2,507.3 L239.1,507.3 L239.1,507.0 L240.0,507.0 L240.0,504.2 L240.9,504.2 L240.9,504.9 L241.8,504.9 L241.8,504.4 L242.7,504.4 L242.7,503.9 L243.6,503.9 L243.6,504.6 L244.5,504.6 L244.5,504.0 L245.4,504.0 L245.4,504.1 L246.3,504.1 L246.3,502.2 L247.2,502.2 L247.2,502.8 L248.1,502.8 L248.1,504.5 L249.0,504.5 L249.0,504.0 L249.9,504.0 L249.9,503.3 L250.8,503.3 L250.8,501.8 L251.7,501.8 L251.7,497.4 L252.6,497.4 L252.6,497.1 L253.5,497.1 L253.5,498.1 L254.4,498.1 L254.4,498.1 L255.3,498.1 L255.3,498.7 L256.2,498.7 L256.2,501.2 L257.1,501.2 L257.1,504.2 L258.0,504.2 L258.0,507.4 L258.9,507.4 L258.9,507.9 L259.8,507.9 L259.8,510.2 L260.7,510.2 L260.7,511.2 L261.6,511.2 L261.6,510.8 L262.5,510.8 L262.5,509.0 L263.4,509.0 L263.4,504.1 L264.3,504.1 L264.3,502.0 L265.2,502.0 L265.2,503.6 L266.1,503.6 L266.1,506.9 L267.0,506.9 L267.0,508.7 L267.9,508.7 L267.9,511.9 L268.8,511.9 L268.8,513.2 L269.7,513.2 L269.7,510.1 L270.6,510.1 L270.6,506.6 L271.5,506.6 L271.5,504.7 L272.4,504.7 L272.4,502.4 L273.3,502.4 L273.3,502.7 L274.2,502.7 L274.2,504.5 L275.1,504.5 L275.1,505.2 L276.0,505.2 L276.0,506.5 L276.9,506.5 L276.9,508.0 L277.8,508.0 L277.8,507.9 L278.7,507.9 L278.7,509.2 L279.6,509.2 L279.6,508.9 L280.5,508.9 L280.5,510.0 L281.4,510.0 L281.4,509.7 L282.3,509.7 L282.3,509.4 L283.2,509.4 L283.2,509.0 L284.1,509.0 L284.1,509.7 L285.0,509.7 L285.0,508.3 L285.9,508.3 L285.9,509.1 L286.8,509.1 L286.8,509.4 L287.7,509.4 L287.7,507.2 L288.6,507.2 L288.6,507.0 L289.5,507.0 L289.5,507.5 L290.4,507.5 L290.4,507.0 L291.3,507.0 L291.3,506.9 L292.2,506.9 L292.2,506.9 L293.1,506.9 L293.1,505.2 L294.0,505.2 L294.0,505.6 L294.9,505.6 L294.9,506.0 L295.8,506.0 L295.8,505.9 L296.7,505.9 L296.7,508.2 L297.6,508.2 L297.6,508.4 L298.5,508.4 L298.5,508.0 L299.4,508.0 L299.4,507.5 L300.3,507.5 L300.3,509.5 L301.2,509.5 L301.2,509.5 L302.1,509.5 L302.1,509.1 L303.0,509.1 L303.0,510.0 L303.9,510.0 L303.9,509.5 L304.8,509.5 L304.8,509.3 L305.7,509.3 L305.7,508.9 L306.6,508.9 L306.6,509.0 L307.5,509.0 L307.5,508.4 L308.4,508.4 L308.4,508.9 L309.3,508.9 L309.3,509.7 L310.2,509.7 L310.2,509.4 L311.1,509.4 L311.1,508.3 L312.0,508.3 L312.0,507.5 L312.9,507.5 L312.9,505.3 L313.8,505.3 L313.8,506.8 L314.7,506.8 L314.7,508.0 L315.6,508.0 L315.6,509.4 L316.5,509.4 L316.5,508.3 L317.4,508.3 L317.4,503.3 L318.3,503.3 L318.3,499.4 L319.2,499.4 L319.2,497.5 L320.1,497.5 L320.1,492.9 L321.0,492.9 L321.0,495.0 L321.9,495.0 L321.9,494.8 L322.8,494.8 L322.8,496.1 L323.7,496.1 L323.7,496.5 L324.6,496.5 L324.6,497.3 L325.5,497.3 L325.5,501.6 L326.4,501.6 L326.4,503.5 L327.3,503.5 L327.3,503.0 L328.2,503.0 L328.2,503.0 L329.1,503.0 L329.1,500.1 L330.0,500.1 L330.0,500.1 L330.9,500.1 L330.9,501.9 L331.8,501.9 L331.8,501.5 L332.7,501.5 L332.7,501.3 L333.6,501.3 L333.6,503.1 L334.5,503.1 L334.5,504.0 L335.4,504.0 L335.4,508.2 L336.3,508.2 L336.3,514.5 L337.2,514.5 L337.2,547.2 L338.1,547.2 L338.1,529.4 L339.0,529.4 L339.0,496.1 L339.9,496.1 L339.9,497.0 L340.8,497.0 L340.8,496.7 L341.7,496.7 L341.7,496.0 L342.6,496.0 L342.6,496.5 L343.5,496.5 L343.5,498.3 L344.4,498.3 L344.4,499.8 L345.3,499.8 L345.3,506.4 L346.2,506.4 L346.2,509.8 L347.1,509.8 L347.1,510.2 L348.0,510.2 L348.0,510.6 L348.9,510.6 L348.9,511.7 L349.8,511.7 L349.8,511.2 L350.7,511.2 L350.7,510.3 L351.6,510.3 L351.6,509.6 L352.5,509.6 L352.5,509.2 L353.4,509.2 L353.4,509.0 L354.3,509.0 L354.3,507.8 L355.2,507.8 L355.2,505.6 L355.8,505.6 L355.8,519.1" fill="#C00000"/>
<line x1="51.0" y1="440" x2="51.0" y2="518.1" stroke="#fff" stroke-width="0.6" stroke-opacity="0.7"/>
<line x1="57.6" y1="440" x2="57.6" y2="518.1" stroke="#fff" stroke-width="0.6" stroke-opacity="0.7"/>
<line x1="62.0" y1="440" x2="62.0" y2="518.1" stroke="#fff" stroke-width="0.6" stroke-opacity="0.7"/>
<line x1="90.5" y1="440" x2="90.5" y2="518.1" stroke="#fff" stroke-width="0.6" stroke-opacity="0.7"/>
<line x1="95.5" y1="440" x2="95.5" y2="518.1" stroke="#fff" stroke-width="0.6" stroke-opacity="0.7"/>
<line x1="154" y1="440" x2="154" y2="518.1" stroke="#fff" stroke-width="0.6" stroke-opacity="0.7"/>
<line x1="160" y1="440" x2="160" y2="518.1" stroke="#fff" stroke-width="0.6" stroke-opacity="0.7"/>
<line x1="190" y1="440" x2="190" y2="518.1" stroke="#fff" stroke-width="0.6" stroke-opacity="0.7"/>
<line x1="211" y1="440" x2="211" y2="518.1" stroke="#fff" stroke-width="0.6" stroke-opacity="0.7"/>
<line x1="227" y1="440" x2="227" y2="518.1" stroke="#fff" stroke-width="0.6" stroke-opacity="0.7"/>
<line x1="236" y1="440" x2="236" y2="518.1" stroke="#fff" stroke-width="0.6" stroke-opacity="0.7"/>
<line x1="254" y1="440" x2="254" y2="518.1" stroke="#fff" stroke-width="0.6" stroke-opacity="0.7"/>
<line x1="266" y1="440" x2="266" y2="518.1" stroke="#fff" stroke-width="0.6" stroke-opacity="0.7"/>
<line x1="281" y1="440" x2="281" y2="518.1" stroke="#fff" stroke-width="0.6" stroke-opacity="0.7"/>
<line x1="295" y1="440" x2="295" y2="518.1" stroke="#fff" stroke-width="0.6" stroke-opacity="0.7"/>
<line x1="306" y1="440" x2="306" y2="518.1" stroke="#fff" stroke-width="0.6" stroke-opacity="0.7"/>
<line x1="315" y1="440" x2="315" y2="518.1" stroke="#fff" stroke-width="0.6" stroke-opacity="0.7"/>
<line x1="326" y1="440" x2="326" y2="518.1" stroke="#fff" stroke-width="0.6" stroke-opacity="0.7"/>
<line x1="346" y1="440" x2="346" y2="518.1" stroke="#fff" stroke-width="0.6" stroke-opacity="0.7"/>
<line x1="349" y1="440" x2="349" y2="518.1" stroke="#fff" stroke-width="0.6" stroke-opacity="0.7"/>
<line x1="48" y1="441.4" x2="48" y2="555.6" stroke="#595959" stroke-width="1"/>
<line x1="48" y1="519.1" x2="356" y2="519.1" stroke="#262626" stroke-width="1.2"/>
<line x1="45" y1="441.4" x2="48" y2="441.4" stroke="#595959" stroke-width="1"/>
<text x="37.8" y="444.5" text-anchor="end" font-size="8.7" fill="#595959">17.00</text>
<line x1="45" y1="464.2" x2="48" y2="464.2" stroke="#595959" stroke-width="1"/>
<text x="37.8" y="467.4" text-anchor="end" font-size="8.7" fill="#595959">12.00</text>
<line x1="45" y1="487.1" x2="48" y2="487.1" stroke="#595959" stroke-width="1"/>
<text x="37.8" y="490.2" text-anchor="end" font-size="8.7" fill="#595959">7.00</text>
<line x1="45" y1="509.9" x2="48" y2="509.9" stroke="#595959" stroke-width="1"/>
<text x="37.8" y="513.0" text-anchor="end" font-size="8.7" fill="#595959">2.00</text>
<line x1="45" y1="532.8" x2="48" y2="532.8" stroke="#595959" stroke-width="1"/>
<text x="37.8" y="535.9" text-anchor="end" font-size="8.7" fill="#595959">-3.00</text>
<line x1="45" y1="555.6" x2="48" y2="555.6" stroke="#595959" stroke-width="1"/>
<text x="37.8" y="558.8" text-anchor="end" font-size="8.7" fill="#595959">-8.00</text>
<line x1="48.0" y1="519.1" x2="48.0" y2="522.1" stroke="#262626" stroke-width="1"/>
<text transform="translate(49.6,569.3) rotate(-45)" text-anchor="end" font-size="8.9" fill="#595959">2017/4/17</text>
<line x1="82.2" y1="519.1" x2="82.2" y2="522.1" stroke="#262626" stroke-width="1"/>
<text transform="translate(83.8,569.3) rotate(-45)" text-anchor="end" font-size="8.9" fill="#595959">2018/4/17</text>
<line x1="116.4" y1="519.1" x2="116.4" y2="522.1" stroke="#262626" stroke-width="1"/>
<text transform="translate(118.0,569.3) rotate(-45)" text-anchor="end" font-size="8.9" fill="#595959">2019/4/17</text>
<line x1="150.6" y1="519.1" x2="150.6" y2="522.1" stroke="#262626" stroke-width="1"/>
<text transform="translate(152.2,569.3) rotate(-45)" text-anchor="end" font-size="8.9" fill="#595959">2020/4/17</text>
<line x1="184.8" y1="519.1" x2="184.8" y2="522.1" stroke="#262626" stroke-width="1"/>
<text transform="translate(186.4,569.3) rotate(-45)" text-anchor="end" font-size="8.9" fill="#595959">2021/4/17</text>
<line x1="219.0" y1="519.1" x2="219.0" y2="522.1" stroke="#262626" stroke-width="1"/>
<text transform="translate(220.6,569.3) rotate(-45)" text-anchor="end" font-size="8.9" fill="#595959">2022/4/17</text>
<line x1="253.2" y1="519.1" x2="253.2" y2="522.1" stroke="#262626" stroke-width="1"/>
<text transform="translate(254.8,569.3) rotate(-45)" text-anchor="end" font-size="8.9" fill="#595959">2023/4/17</text>
<line x1="287.4" y1="519.1" x2="287.4" y2="522.1" stroke="#262626" stroke-width="1"/>
<text transform="translate(289.0,569.3) rotate(-45)" text-anchor="end" font-size="8.9" fill="#595959">2024/4/17</text>
<line x1="321.6" y1="519.1" x2="321.6" y2="522.1" stroke="#262626" stroke-width="1"/>
<text transform="translate(323.2,569.3) rotate(-45)" text-anchor="end" font-size="8.9" fill="#595959">2025/4/17</text>
<line x1="355.8" y1="519.1" x2="355.8" y2="522.1" stroke="#262626" stroke-width="1"/>
<text transform="translate(357.4,569.3) rotate(-45)" text-anchor="end" font-size="8.9" fill="#595959">2026/4/17</text>
<rect x="138.8" y="420.3" width="4" height="4.2" fill="#C00000"/>
<text x="144.8" y="425.8" font-size="8.5" textLength="103" lengthAdjust="spacingAndGlyphs" fill="#595959">四钴减硫酸钴 (万元/金属吨)</text>
<line x1="458.4" y1="404" x2="458.4" y2="531" stroke="#404040" stroke-width="1"/>
<line x1="458.4" y1="493.4" x2="707.2" y2="493.4" stroke="#000" stroke-width="1.5"/>
<line x1="455.4" y1="404.0" x2="458.4" y2="404.0" stroke="#404040" stroke-width="1"/>
<text x="447.9" y="407.3" text-anchor="end" font-size="9.5" fill="#595959">14</text>
<line x1="455.4" y1="435.8" x2="458.4" y2="435.8" stroke="#404040" stroke-width="1"/>
<text x="447.9" y="439.1" text-anchor="end" font-size="9.5" fill="#595959">9</text>
<line x1="455.4" y1="467.5" x2="458.4" y2="467.5" stroke="#404040" stroke-width="1"/>
<text x="447.9" y="470.8" text-anchor="end" font-size="9.5" fill="#595959">4</text>
<line x1="455.4" y1="499.2" x2="458.4" y2="499.2" stroke="#404040" stroke-width="1"/>
<text x="447.9" y="502.6" text-anchor="end" font-size="9.5" fill="#595959">-1</text>
<line x1="455.4" y1="531.0" x2="458.4" y2="531.0" stroke="#404040" stroke-width="1"/>
<text x="447.9" y="534.3" text-anchor="end" font-size="9.5" fill="#595959">-6</text>
<line x1="458.4" y1="491.9" x2="458.4" y2="494.9" stroke="#000" stroke-width="1"/>
<text transform="translate(463.4,542.5) rotate(-45)" text-anchor="end" font-size="10" fill="#595959">2024/4/17</text>
<line x1="520.6" y1="491.9" x2="520.6" y2="494.9" stroke="#000" stroke-width="1"/>
<text transform="translate(525.6,542.5) rotate(-45)" text-anchor="end" font-size="10" fill="#595959">2024/10/17</text>
<line x1="582.8" y1="491.9" x2="582.8" y2="494.9" stroke="#000" stroke-width="1"/>
<text transform="translate(587.8,542.5) rotate(-45)" text-anchor="end" font-size="10" fill="#595959">2025/4/17</text>
<line x1="645.0" y1="491.9" x2="645.0" y2="494.9" stroke="#000" stroke-width="1"/>
<text transform="translate(650.0,542.5) rotate(-45)" text-anchor="end" font-size="10" fill="#595959">2025/10/17</text>
<line x1="707.2" y1="491.9" x2="707.2" y2="494.9" stroke="#000" stroke-width="1"/>
<text transform="translate(712.2,542.5) rotate(-45)" text-anchor="end" font-size="10" fill="#595959">2026/4/17</text>
<rect x="479.5" y="411.5" width="6.4" height="6.4" fill="#C00000"/>
<text x="489.6" y="419.3" font-size="11.5" textLength="175" lengthAdjust="spacingAndGlyphs" fill="#595959">国内电钴现货减无锡盘钴 (万元/吨)</text>
<path d="M458.6,493.4 L458.6,507.8 L459.5,507.8 L459.5,509.2 L460.4,509.2 L460.4,509.5 L461.3,509.5 L461.3,511.0 L462.2,511.0 L462.2,509.7 L463.1,509.7 L463.1,508.7 L464.0,508.7 L464.0,508.3 L464.9,508.3 L464.9,507.9 L465.8,507.9 L465.8,505.9 L466.7,505.9 L466.7,505.6 L467.6,505.6 L467.6,504.1 L468.5,504.1 L468.5,504.3 L469.4,504.3 L469.4,503.2 L470.3,503.2 L470.3,504.7 L471.2,504.7 L471.2,507.1 L472.1,507.1 L472.1,507.7 L473.0,507.7 L473.0,509.3 L473.9,509.3 L473.9,511.0 L474.8,511.0 L474.8,510.6 L475.7,510.6 L475.7,511.2 L476.6,511.2 L476.6,512.0 L477.5,512.0 L477.5,512.5 L478.4,512.5 L478.4,512.8 L479.3,512.8 L479.3,512.7 L480.2,512.7 L480.2,513.4 L481.1,513.4 L481.1,513.7 L482.0,513.7 L482.0,514.0 L482.9,514.0 L482.9,514.9 L483.8,514.9 L483.8,515.5 L484.7,515.5 L484.7,516.3 L485.6,516.3 L485.6,517.4 L486.5,517.4 L486.5,517.4 L487.4,517.4 L487.4,517.0 L488.3,517.0 L488.3,515.7 L489.2,515.7 L489.2,515.9 L490.1,515.9 L490.1,515.5 L491.0,515.5 L491.0,514.9 L491.9,514.9 L491.9,515.3 L492.8,515.3 L492.8,514.5 L493.7,514.5 L493.7,514.1 L494.6,514.1 L494.6,513.8 L495.5,513.8 L495.5,512.9 L496.4,512.9 L496.4,511.1 L497.3,511.1 L497.3,509.9 L498.2,509.9 L498.2,508.9 L499.1,508.9 L499.1,506.9 L500.0,506.9 L500.0,507.1 L500.9,507.1 L500.9,505.2 L501.8,505.2 L501.8,505.2 L502.7,505.2 L502.7,504.5 L503.6,504.5 L503.6,503.3 L504.5,503.3 L504.5,502.6 L505.4,502.6 L505.4,502.3 L506.3,502.3 L506.3,503.4 L507.2,503.4 L507.2,502.9 L508.1,502.9 L508.1,502.8 L509.0,502.8 L509.0,502.3 L509.9,502.3 L509.9,503.0 L510.8,503.0 L510.8,502.5 L511.7,502.5 L511.7,502.6 L512.6,502.6 L512.6,501.8 L513.5,501.8 L513.5,502.5 L514.4,502.5 L514.4,501.4 L515.3,501.4 L515.3,502.1 L516.2,502.1 L516.2,502.1 L517.1,502.1 L517.1,501.3 L518.0,501.3 L518.0,501.4 L518.9,501.4 L518.9,501.8 L519.8,501.8 L519.8,501.2 L520.7,501.2 L520.7,501.6 L521.6,501.6 L521.6,500.7 L522.5,500.7 L522.5,500.8 L523.4,500.8 L523.4,500.7 L524.3,500.7 L524.3,500.9 L525.2,500.9 L525.2,501.4 L526.1,501.4 L526.1,501.5 L527.0,501.5 L527.0,501.7 L527.9,501.7 L527.9,501.3 L528.8,501.3 L528.8,502.5 L529.7,502.5 L529.7,501.5 L530.6,501.5 L530.6,502.4 L531.5,502.4 L531.5,502.0 L532.4,502.0 L532.4,501.7 L533.3,501.7 L533.3,501.3 L534.2,501.3 L534.2,501.0 L535.1,501.0 L535.1,501.1 L536.0,501.1 L536.0,500.3 L536.9,500.3 L536.9,501.1 L537.8,501.1 L537.8,500.7 L538.7,500.7 L538.7,500.5 L539.6,500.5 L539.6,500.0 L540.5,500.0 L540.5,499.9 L541.4,499.9 L541.4,500.6 L542.3,500.6 L542.3,501.1 L543.2,501.1 L543.2,501.5 L544.1,501.5 L544.1,502.2 L545.0,502.2 L545.0,502.2 L545.9,502.2 L545.9,501.2 L546.8,501.2 L546.8,500.1 L547.7,500.1 L547.7,500.0 L548.6,500.0 L548.6,498.9 L549.5,498.9 L549.5,497.7 L550.4,497.7 L550.4,497.5 L551.3,497.5 L551.3,497.7 L552.2,497.7 L552.2,497.0 L553.1,497.0 L553.1,495.8 L554.0,495.8 L554.0,496.7 L554.9,496.7 L554.9,496.7 L555.8,496.7 L555.8,496.5 L556.7,496.5 L556.7,495.9 L557.6,495.9 L557.6,495.7 L558.5,495.7 L558.5,496.5 L559.4,496.5 L559.4,496.5 L560.3,496.5 L560.3,496.3 L561.2,496.3 L561.2,496.1 L562.1,496.1 L562.1,495.7 L563.0,495.7 L563.0,496.1 L563.9,496.1 L563.9,495.8 L564.8,495.8 L564.8,496.2 L565.7,496.2 L565.7,504.0 L566.6,504.0 L566.6,504.5 L567.5,504.5 L567.5,506.3 L568.4,506.3 L568.4,509.6 L569.3,509.6 L569.3,516.0 L570.2,516.0 L570.2,519.4 L571.1,519.4 L571.1,515.9 L572.0,515.9 L572.0,512.7 L572.9,512.7 L572.9,509.8 L573.8,509.8 L573.8,509.2 L574.7,509.2 L574.7,508.9 L575.6,508.9 L575.6,508.0 L576.5,508.0 L576.5,506.7 L577.4,506.7 L577.4,504.7 L578.3,504.7 L578.3,497.9 L579.2,497.9 L579.2,503.4 L580.1,503.4 L580.1,502.9 L581.0,502.9 L581.0,501.4 L581.9,501.4 L581.9,500.5 L582.8,500.5 L582.8,500.0 L583.7,500.0 L583.7,499.1 L584.6,499.1 L584.6,499.5 L585.5,499.5 L585.5,500.1 L586.4,500.1 L586.4,499.7 L587.3,499.7 L587.3,500.1 L588.2,500.1 L588.2,500.3 L589.1,500.3 L589.1,499.6 L590.0,499.6 L590.0,500.3 L590.9,500.3 L590.9,500.1 L591.8,500.1 L591.8,499.8 L592.7,499.8 L592.7,500.3 L593.6,500.3 L593.6,500.5 L594.5,500.5 L594.5,500.3 L595.4,500.3 L595.4,499.5 L596.3,499.5 L596.3,499.4 L597.2,499.4 L597.2,499.3 L598.1,499.3 L598.1,499.4 L599.0,499.4 L599.0,498.8 L599.9,498.8 L599.9,498.5 L600.8,498.5 L600.8,498.4 L601.7,498.4 L601.7,498.3 L602.6,498.3 L602.6,497.5 L603.5,497.5 L603.5,497.9 L604.4,497.9 L604.4,497.1 L605.3,497.1 L605.3,496.3 L606.2,496.3 L606.2,496.7 L607.1,496.7 L607.1,496.9 L608.0,496.9 L608.0,497.8 L608.9,497.8 L608.9,498.1 L609.8,498.1 L609.8,498.6 L610.7,498.6 L610.7,498.4 L611.6,498.4 L611.6,498.9 L612.5,498.9 L612.5,498.7 L613.4,498.7 L613.4,499.2 L614.3,499.2 L614.3,499.8 L615.2,499.8 L615.2,499.4 L616.1,499.4 L616.1,499.4 L617.0,499.4 L617.0,500.1 L617.9,500.1 L617.9,500.4 L618.8,500.4 L618.8,499.3 L619.7,499.3 L619.7,499.3 L620.6,499.3 L620.6,497.7 L621.5,497.7 L621.5,496.7 L622.4,496.7 L622.4,494.9 L623.3,494.9 L623.3,494.5 L624.2,494.5 L624.2,487.4 L625.1,487.4 L625.1,471.6 L626.0,471.6 L626.0,456.9 L626.9,456.9 L626.9,443.6 L627.8,443.6 L627.8,431.6 L628.7,431.6 L628.7,429.1 L629.6,429.1 L629.6,425.7 L630.5,425.7 L630.5,413.1 L631.4,413.1 L631.4,411.1 L632.3,411.1 L632.3,414.1 L633.2,414.1 L633.2,420.1 L634.1,420.1 L634.1,421.0 L635.0,421.0 L635.0,430.4 L635.9,430.4 L635.9,463.6 L636.8,463.6 L636.8,495.3 L637.7,495.3 L637.7,500.5 L638.6,500.5 L638.6,502.9 L639.5,502.9 L639.5,505.2 L640.4,505.2 L640.4,503.5 L641.3,503.5 L641.3,498.4 L642.2,498.4 L642.2,502.8 L643.1,502.8 L643.1,506.3 L644.0,506.3 L644.0,502.8 L644.9,502.8 L644.9,498.9 L645.8,498.9 L645.8,499.4 L646.7,499.4 L646.7,502.0 L647.6,502.0 L647.6,504.3 L648.5,504.3 L648.5,503.6 L649.4,503.6 L649.4,501.1 L650.3,501.1 L650.3,499.7 L651.2,499.7 L651.2,498.1 L652.1,498.1 L652.1,498.0 L653.0,498.0 L653.0,496.6 L653.9,496.6 L653.9,496.6 L654.8,496.6 L654.8,496.3 L655.7,496.3 L655.7,495.9 L656.6,495.9 L656.6,495.4 L657.5,495.4 L657.5,495.5 L658.4,495.5 L658.4,496.0 L659.3,496.0 L659.3,496.9 L660.2,496.9 L660.2,497.4 L661.1,497.4 L661.1,498.7 L662.0,498.7 L662.0,499.2 L662.9,499.2 L662.9,498.6 L663.8,498.6 L663.8,497.3 L664.7,497.3 L664.7,482.6 L665.6,482.6 L665.6,462.6 L666.5,462.6 L666.5,463.9 L667.4,463.9 L667.4,489.3 L668.3,489.3 L668.3,500.4 L669.2,500.4 L669.2,500.2 L670.1,500.2 L670.1,497.1 L671.0,497.1 L671.0,495.7 L671.9,495.7 L671.9,494.2 L672.8,494.2 L672.8,491.9 L673.7,491.9 L673.7,491.0 L674.6,491.0 L674.6,491.9 L675.5,491.9 L675.5,492.9 L676.4,492.9 L676.4,495.8 L677.3,495.8 L677.3,498.5 L678.2,498.5 L678.2,500.4 L679.1,500.4 L679.1,502.4 L680.0,502.4 L680.0,504.3 L680.9,504.3 L680.9,502.2 L681.8,502.2 L681.8,497.7 L682.7,497.7 L682.7,495.5 L683.6,495.5 L683.6,496.3 L684.5,496.3 L684.5,497.4 L685.4,497.4 L685.4,499.5 L686.3,499.5 L686.3,499.0 L687.2,499.0 L687.2,499.7 L688.1,499.7 L688.1,501.4 L689.0,501.4 L689.0,501.2 L689.9,501.2 L689.9,499.1 L690.8,499.1 L690.8,497.8 L691.7,497.8 L691.7,497.1 L692.6,497.1 L692.6,496.2 L693.5,496.2 L693.5,496.7 L694.4,496.7 L694.4,497.7 L695.3,497.7 L695.3,497.7 L696.2,497.7 L696.2,496.2 L697.1,496.2 L697.1,495.7 L698.0,495.7 L698.0,495.3 L698.9,495.3 L698.9,494.4 L699.8,494.4 L699.8,494.4 L700.7,494.4 L700.7,495.1 L701.6,495.1 L701.6,495.0 L702.5,495.0 L702.5,496.7 L703.4,496.7 L703.4,497.2 L704.3,497.2 L704.3,496.8 L705.2,496.8 L705.2,497.5 L706.1,497.5 L706.1,498.6 L707.0,498.6 L707.0,494.4 L707.2,494.4 L707.2,493.4" fill="#C00000"/>
<line x1="458.4" y1="493.4" x2="707.2" y2="493.4" stroke="#000" stroke-width="1.5"/>
<line x1="458.4" y1="491.9" x2="458.4" y2="495.4" stroke="#000" stroke-width="1"/>
<line x1="520.6" y1="491.9" x2="520.6" y2="495.4" stroke="#000" stroke-width="1"/>
<line x1="582.8" y1="491.9" x2="582.8" y2="495.4" stroke="#000" stroke-width="1"/>
<line x1="645.0" y1="491.9" x2="645.0" y2="495.4" stroke="#000" stroke-width="1"/>
<line x1="707.2" y1="491.9" x2="707.2" y2="495.4" stroke="#000" stroke-width="1"/>
</svg>
<div class="t" style="left:12.5px;top:15.3px">图37：MB 钴美元及折合人民币价格</div>
<div class="hl" style="left:6px;top:29.8px;width:359px"></div>
<div class="hl" style="left:6px;top:272px;width:359px"></div>
<div class="s" style="left:13px;top:276.5px">资料来源：亚洲金属网，国联民生证券研究所</div>
<div class="s" style="left:13px;top:295px">注：美元汇率为当日中间汇率</div>

<div class="t" style="left:391.3px;top:15px">图38：海内外钴价及价差</div>
<div class="hl" style="left:385px;top:29.8px;width:356px"></div>
<div class="hl" style="left:385px;top:270.5px;width:356px"></div>
<div class="s" style="left:391px;top:277px">资料来源：亚洲金属网，国联民生证券研究所</div>

<div class="t" style="left:12.7px;top:370px">图39：硫酸钴和四氧化三钴价差</div>
<div class="hl" style="left:6px;top:383.8px;width:365px"></div>
<div class="hl" style="left:6px;top:603.8px;width:365px"></div>
<div class="s" style="left:13px;top:610.5px">资料来源：亚洲金属网，国联民生证券研究所</div>

<div class="t" style="left:399.3px;top:370px">图40：金属钴现货和无锡盘价格差</div>
<div class="hl" style="left:392px;top:383.8px;width:361px"></div>
<div class="hl" style="left:392px;top:603.8px;width:361px"></div>
<div class="s" style="left:399px;top:612.5px">资料来源：亚洲金属网，国联民生证券研究所</div>
</body></html>
